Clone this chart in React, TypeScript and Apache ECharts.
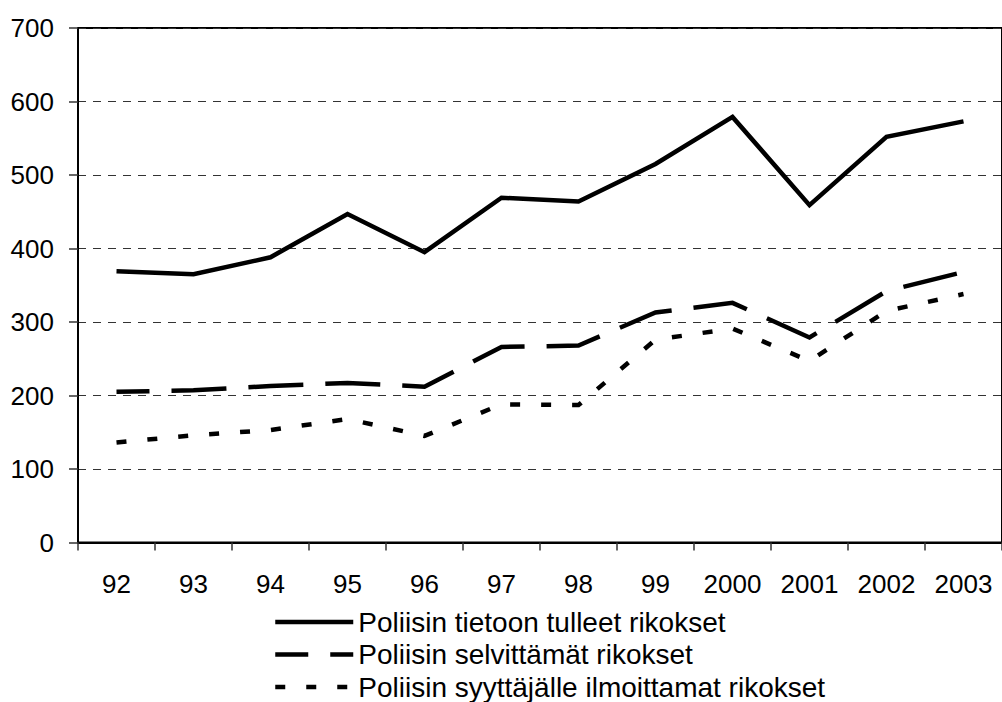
import React, { useEffect, useRef } from "react";
import * as echarts from "echarts";

const categories = ["92", "93", "94", "95", "96", "97", "98", "99", "2000", "2001", "2002", "2003"];
const reported = [369, 365, 388, 447, 395, 469, 464, 515, 579, 459, 552, 573];
const solved = [205, 207, 213, 217, 212, 266, 268, 313, 326, 279, 342, 368];
const prosecuted = [136, 146, 153, 168, 145, 188, 187, 276, 291, 247, 315, 338];
const seriesNames = [
  "Poliisin tietoon tulleet rikokset",
  "Poliisin selvittämät rikokset",
  "Poliisin syyttäjälle ilmoittamat rikokset",
];
const yTicks = { min: 0, max: 700, interval: 100 };

const FONT = "Liberation Sans, Arial, sans-serif";

export default function App() {
  const ref = useRef<HTMLDivElement>(null);
  useEffect(() => {
    if (!ref.current) return;
    const chart = echarts.init(ref.current, null, { renderer: "svg" });
    const lineW = 4.5;
    chart.setOption({
      animation: false,
      backgroundColor: "#ffffff",
      grid: {
        left: 78,
        top: 28,
        right: -9,
        bottom: 159.5,
        show: true,
        borderColor: "#000",
        borderWidth: 2,
        backgroundColor: "transparent",
      },
      xAxis: {
        type: "category",
        data: categories,
        boundaryGap: true,
        axisLine: { show: true, lineStyle: { color: "#000", width: 2 } },
        axisTick: { show: true, alignWithLabel: false, length: 8, lineStyle: { color: "#333", width: 1.5 } },
        axisLabel: { color: "#000", fontSize: 26, fontFamily: FONT, margin: 28, interval: 0 },
        splitLine: { show: false },
      },
      yAxis: {
        type: "value",
        min: yTicks.min,
        max: yTicks.max,
        interval: yTicks.interval,
        axisLine: { show: true, lineStyle: { color: "#000", width: 2 } },
        axisTick: { show: true, length: 9, lineStyle: { color: "#333", width: 1.5 } },
        axisLabel: { color: "#000", fontSize: 26, fontFamily: FONT, margin: 24 },
        splitLine: { show: true, lineStyle: { color: "#333", width: 1, type: [8, 7] } },
      },
      legend: {
        orient: "vertical",
        left: 273,
        top: 608,
        height: 140,
        padding: 0,
        itemWidth: 78,
        itemHeight: 14,
        itemGap: 4.5,
        textStyle: { color: "#000", fontSize: 28, fontFamily: FONT },
        lineStyle: { width: lineW },
        itemStyle: { color: "rgba(0,0,0,0)", borderColor: "rgba(0,0,0,0)", borderWidth: 0 },
        data: seriesNames,
      },
      series: [
        {
          name: seriesNames[0],
          type: "line",
          data: reported,
          symbol: "none",
          lineStyle: { color: "#000", width: lineW, type: "solid", join: "miter" },
          itemStyle: { color: "#000" },
        },
        {
          name: seriesNames[1],
          type: "line",
          data: solved,
          symbol: "none",
          lineStyle: { color: "#000", width: lineW, type: [55, 22], dashOffset: 22, join: "miter" },
          itemStyle: { color: "#000" },
        },
        {
          name: seriesNames[2],
          type: "line",
          data: prosecuted,
          symbol: "none",
          lineStyle: { color: "#000", width: lineW, type: [10, 21], dashOffset: 0, join: "miter" },
          itemStyle: { color: "#000" },
        },
      ],
    });
    return () => chart.dispose();
  }, []);
  return (
    <div
      ref={ref}
      style={{ position: "fixed", left: 0, top: 0, width: 1002, height: 702, background: "#fff" }}
    />
  );
}
